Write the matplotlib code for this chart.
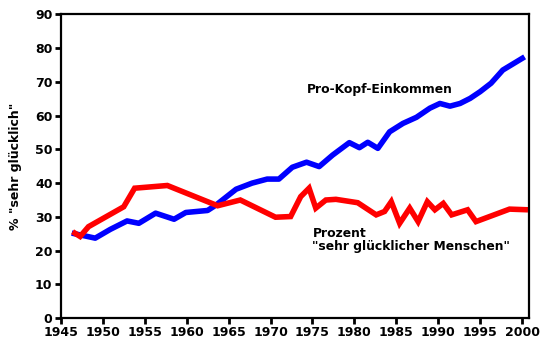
import numpy as np
import matplotlib
matplotlib.use('Agg')
import matplotlib.pyplot as plt

# Pro-Kopf-Einkommen (blau)
years_inc = [1946.3, 1949.1, 1950.9, 1952.9, 1954.3, 1956.3, 1958.5, 1959.9, 1962.5, 1963.5,
             1965.9, 1967.8, 1969.6, 1971.0, 1972.6, 1974.3, 1975.8, 1977.4, 1979.4, 1980.6,
             1981.6, 1982.8, 1984.2, 1985.8, 1987.4, 1989.0, 1990.2, 1991.4, 1992.6, 1993.8,
             1995.0, 1996.3, 1997.7, 2000.3]
income = [25.2, 23.7, 26.3, 28.8, 28.1, 31.1, 29.3, 31.3, 31.9, 33.5,
          38.2, 40.0, 41.2, 41.2, 44.7, 46.2, 44.9, 48.3, 52.0, 50.5,
          52.1, 50.3, 55.2, 57.7, 59.5, 62.2, 63.6, 62.8, 63.6, 65.1,
          67.1, 69.6, 73.5, 77.4]

# Prozent "sehr gluecklicher Menschen" (rot)
years_hap = [1946.4, 1947.3, 1948.3, 1952.5, 1953.8, 1957.7, 1963.7, 1966.4, 1970.6, 1972.4,
             1973.6, 1974.6, 1975.4, 1976.6, 1977.8, 1980.4, 1982.6, 1983.6, 1984.4, 1985.4,
             1986.6, 1987.6, 1988.7, 1989.6, 1990.6, 1991.6, 1993.5, 1994.5, 1998.5, 2000.7]
happy = [25.6, 24.2, 27.1, 33.0, 38.5, 39.3, 33.3, 35.0, 29.9, 30.1,
         36.0, 38.5, 32.6, 35.0, 35.2, 34.2, 30.6, 31.6, 34.5, 28.1,
         32.6, 28.6, 34.5, 32.1, 34.0, 30.6, 32.1, 28.6, 32.3, 32.1]

xticks = np.arange(1945, 2001, 5)
yticks = np.arange(0, 91, 10)

plt.rcParams['font.family'] = 'DejaVu Sans'
plt.rcParams['font.weight'] = 'bold'

fig = plt.figure(figsize=(5.48, 3.5), dpi=100)
ax = fig.add_axes([0.111, 0.091, 0.854, 0.868])

ax.plot(years_inc, income, color='#0000ff', lw=4, solid_joinstyle='round', solid_capstyle='butt')
ax.plot(years_hap, happy, color='#ff0000', lw=4, solid_joinstyle='miter', solid_capstyle='butt')

ax.set_xlim(1945, 2000.8)
ax.set_ylim(0, 90)
ax.set_xticks(xticks)
ax.set_yticks(yticks)
ax.tick_params(labelsize=9, length=4, width=2, pad=2)
for s in ax.spines.values():
    s.set_linewidth(1.6)

ax.set_ylabel('% "sehr glücklich"', fontsize=9, fontweight='bold', labelpad=9)

ax.text(1974.3, 67.8, 'Pro-Kopf-Einkommen', fontsize=8.9, fontweight='bold', va='center')
ax.text(1975.0, 23.2, 'Prozent\n"sehr glücklicher Menschen"', fontsize=8.9,
        fontweight='bold', va='center', linespacing=1.05)

plt.savefig('out.png', dpi=100)
